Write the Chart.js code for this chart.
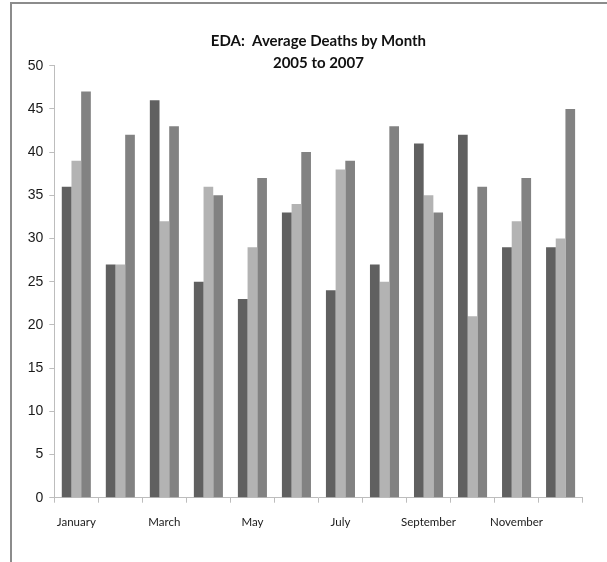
<!DOCTYPE html>
<html>
<head>
<meta charset="utf-8">
<script src="https://cdn.jsdelivr.net/npm/chart.js@4"></script>
<style>
  html, body { margin: 0; padding: 0; background: #ffffff; overflow: hidden; }
  #wrap { position: relative; width: 607px; height: 562px; }
  #frame { position: absolute; left: 10px; top: 2px; width: 700px; height: 700px;
           border-top: 2px solid #8c8c8c; border-left: 2px solid #8c8c8c; pointer-events: none; }
  canvas { position: absolute; left: 0; top: 0; }
</style>
</head>
<body>
<div id="wrap">
  <canvas id="c" width="607" height="562"></canvas>
  <div id="frame"></div>
</div>
<script>
const months = ["January","February","March","April","May","June","July","August","September","October","November","December"];
const series2005 = [36, 27, 46, 25, 23, 33, 24, 27, 41, 42, 29, 29];
const series2006 = [39, 27, 32, 36, 29, 34, 38, 25, 35, 21, 32, 30];
const series2007 = [47, 42, 43, 35, 37, 40, 39, 43, 33, 36, 37, 45];
const titleLines = ["EDA:  Average Deaths by Month", "2005 to 2007"];
const yTicks = { min: 0, max: 50, step: 5 };

const narrow = 'Lato, "Liberation Sans", sans-serif';

const titlePlugin = {
  id: 'twoLineTitle',
  afterDraw(chart) {
    const ctx = chart.ctx;
    const ca = chart.chartArea;
    const cx = (ca.left + ca.right) / 2;
    ctx.save();
    ctx.fillStyle = '#111111';
    ctx.font = 'bold 15px ' + narrow;
    ctx.textAlign = 'center';
    ctx.textBaseline = 'middle';
    ctx.fillText(titleLines[0], cx, 41);
    ctx.fillText(titleLines[1], cx, 63);
    ctx.restore();
  }
};

new Chart(document.getElementById('c'), {
  type: 'bar',
  data: {
    labels: months,
    datasets: [
      { label: '2005', data: series2005, backgroundColor: '#606060' },
      { label: '2006', data: series2006, backgroundColor: '#b3b3b3' },
      { label: '2007', data: series2007, backgroundColor: '#828282' }
    ]
  },
  options: {
    responsive: false,
    animation: false,
    layout: { padding: { left: 0, right: 24.4, top: 65.7, bottom: 0 } },
    datasets: { bar: { categoryPercentage: 0.66, barPercentage: 1.0 } },
    plugins: { legend: { display: false }, title: { display: false }, tooltip: { enabled: false } },
    scales: {
      x: {
        afterFit(scale) { scale.height = 64.3; },
        grid: { display: true, offset: true, drawOnChartArea: false, drawTicks: true, tickLength: 5, color: '#bdbdbd' },
        border: { display: true, color: '#bdbdbd', width: 1 },
        ticks: {
          autoSkip: false, maxRotation: 0, minRotation: 0, padding: 13,
          color: '#1a1a1a', font: { family: narrow, size: 11.5 },
          callback(v, i) { return i % 2 === 0 ? this.getLabelForValue(v) : ''; }
        }
      },
      y: {
        min: yTicks.min, max: yTicks.max,
        afterFit(scale) { scale.width = 54.3; },
        grid: { display: true, drawOnChartArea: false, drawTicks: true, tickLength: 5, color: '#bdbdbd' },
        border: { display: true, color: '#bdbdbd', width: 1 },
        ticks: { stepSize: yTicks.step, padding: 6, color: '#1a1a1a', font: { family: '"Liberation Sans", sans-serif', size: 14 } }
      }
    }
  },
  plugins: [titlePlugin]
});
</script>
</body>
</html>
